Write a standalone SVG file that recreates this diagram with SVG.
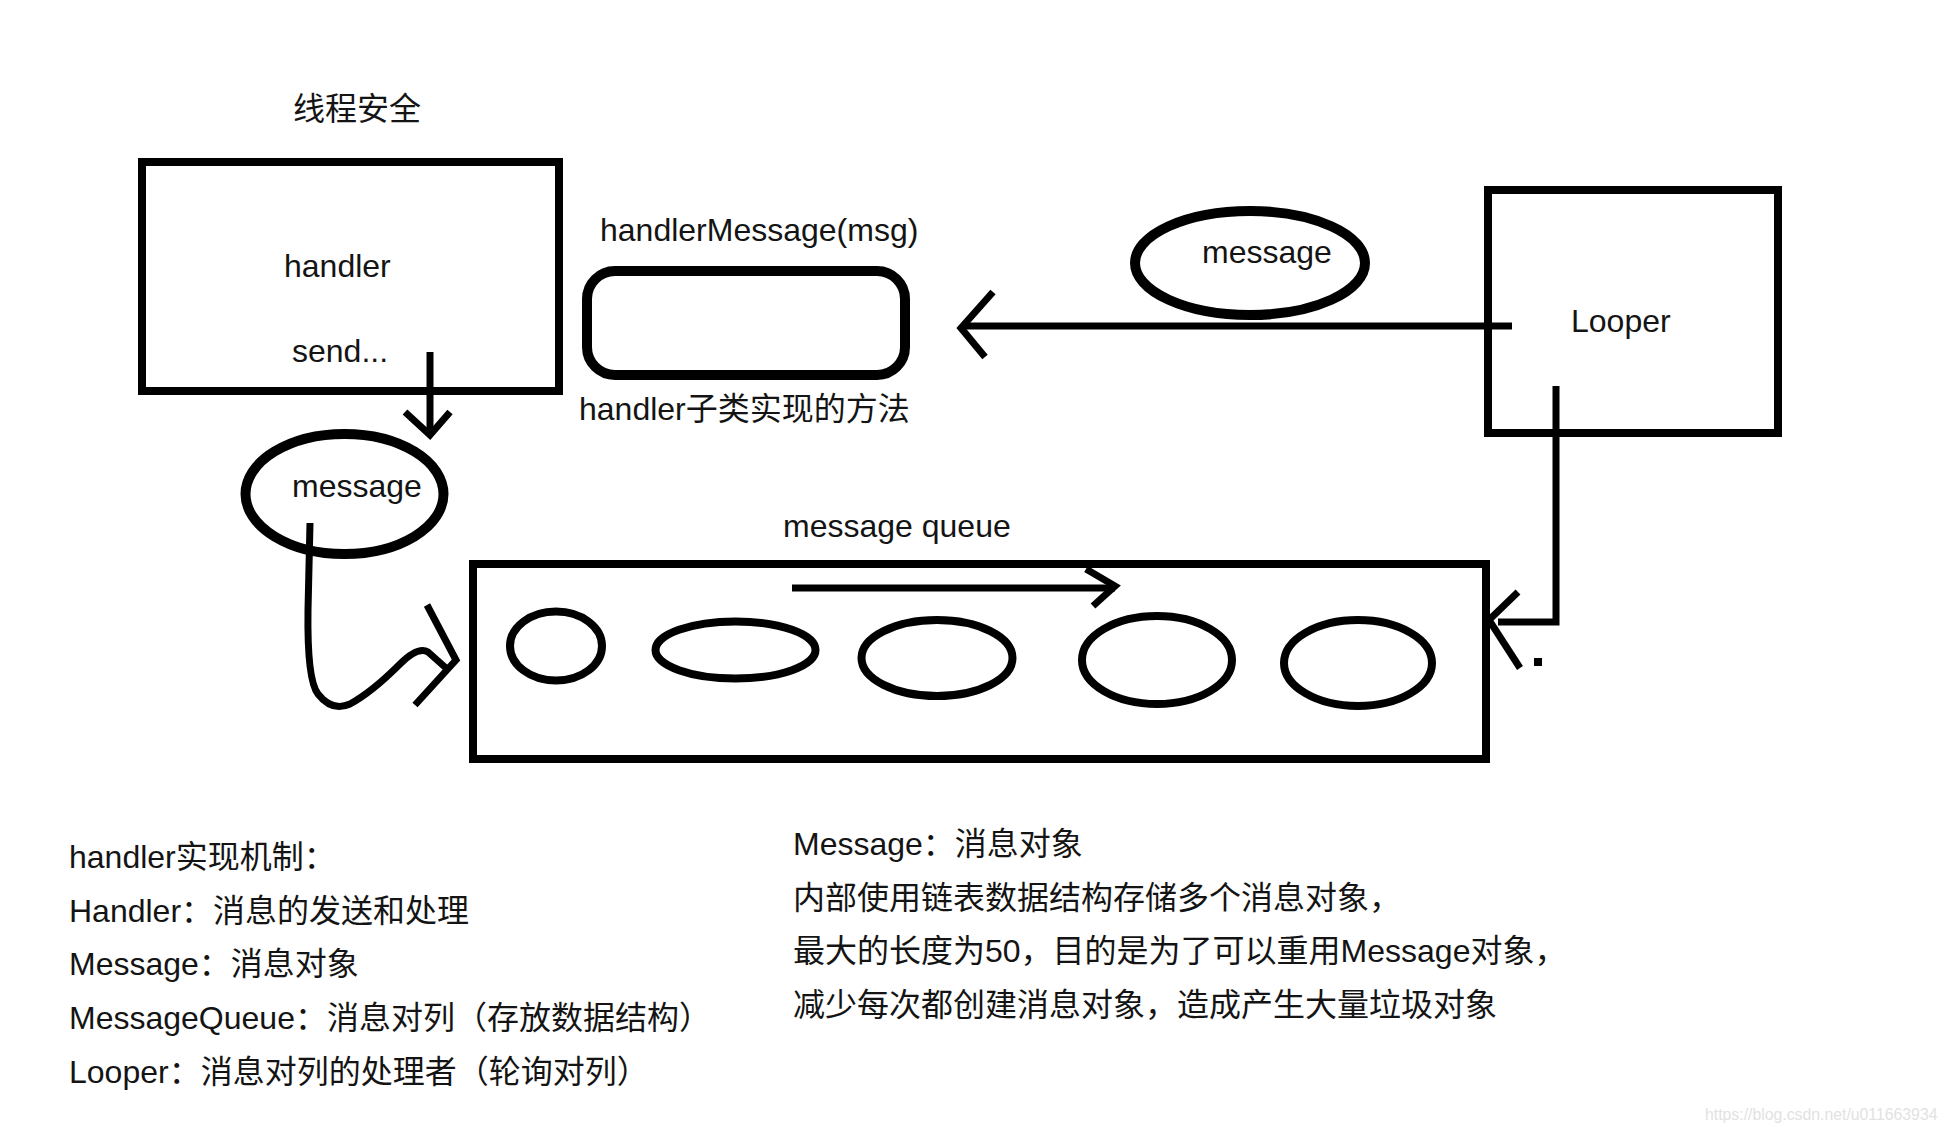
<svg xmlns="http://www.w3.org/2000/svg" width="1948" height="1134" viewBox="0 0 1948 1134">
<style>
  .t { font-family: "Liberation Sans", "Noto Sans CJK SC", sans-serif; font-size: 32px; fill: #141414; }
  .shape { fill: none; stroke: #000; stroke-width: 8; }
  .thick { fill: none; stroke: #000; stroke-width: 10; }
  .conn { fill: none; stroke: #000; stroke-width: 7; stroke-linejoin: miter; }
  .wm { font-family: "Liberation Sans", sans-serif; font-size: 15.8px; fill: #e2e2e2; }
</style>
<rect width="1948" height="1134" fill="#fff"/>

<text class="t" x="293" y="120">线程安全</text>

<g id="handler">
  <rect class="shape" x="142" y="162" width="417" height="229"/>
  <text class="t" x="284" y="277">handler</text>
  <text class="t" x="292" y="362">send...</text>
</g>

<g id="handlerMessage">
  <text class="t" x="600" y="241">handlerMessage(msg)</text>
  <rect class="thick" x="587" y="271" width="318" height="104" rx="28" ry="28"/>
  <text class="t" x="579" y="420">handler子类实现的方法</text>
</g>

<g id="message-top">
  <ellipse class="thick" cx="1250" cy="263" rx="115" ry="52"/>
  <text class="t" x="1202" y="263">message</text>
</g>

<g id="looper">
  <rect class="shape" x="1488" y="190" width="290" height="243"/>
  <text class="t" x="1571" y="332">Looper</text>
</g>

<g id="message-left">
  <ellipse class="thick" cx="344.5" cy="494" rx="99" ry="60"/>
  <text class="t" x="292" y="497">message</text>
</g>

<g id="message-queue">
  <text class="t" x="783" y="537">message queue</text>
  <rect class="shape" x="473" y="564" width="1013" height="195"/>
  <ellipse class="shape" cx="556" cy="646" rx="46" ry="34.5"/>
  <ellipse class="shape" cx="735.5" cy="650" rx="80" ry="28.5"/>
  <ellipse class="shape" cx="937" cy="658" rx="75.5" ry="38"/>
  <ellipse class="shape" cx="1157" cy="660" rx="75" ry="44"/>
  <ellipse class="shape" cx="1358" cy="663" rx="74" ry="43"/>
</g>

<g id="connectors">
  <!-- handler send -> message -->
  <line class="conn" x1="430" y1="352" x2="430" y2="433"/>
  <polyline class="conn" points="405,412 430,435 450,412"/>
  <!-- Looper -> handlerMessage -->
  <line class="conn" x1="1512" y1="326" x2="962" y2="326" stroke-width="8"/>
  <polyline class="conn" points="993,292 961,328 985,357"/>
  <!-- Looper -> queue -->
  <polyline class="conn" points="1556,386 1556,622 1498,622"/>
  <polyline class="conn" points="1518,592 1489,620 1520,668"/>
  <rect x="1534" y="658" width="8" height="8" fill="#000"/>
  <!-- message -> queue -->
  <path class="conn" d="M 310 523 L 308 610 Q 307 680 318 694 Q 332 712 350 704 Q 372 692 400 664 Q 418 646 428 652 L 446 668"/>
  <polyline class="conn" points="427,605 456,660 415,705"/>
  <!-- queue direction -->
  <line class="conn" x1="792" y1="588" x2="1115" y2="588"/>
  <polyline class="conn" points="1086,569 1115,586 1093,606"/>
</g>

<g id="notes-left">
  <text class="t" x="69" y="868">handler实现机制：</text>
  <text class="t" x="69" y="921.5">Handler：消息的发送和处理</text>
  <text class="t" x="69" y="975">Message：消息对象</text>
  <text class="t" x="69" y="1029">MessageQueue：消息对列（存放数据结构）</text>
  <text class="t" x="69" y="1083">Looper：消息对列的处理者（轮询对列）</text>
</g>

<g id="notes-right">
  <text class="t" x="793" y="855">Message：消息对象</text>
  <text class="t" x="793" y="909">内部使用链表数据结构存储多个消息对象，</text>
  <text class="t" x="793" y="962">最大的长度为50，目的是为了可以重用Message对象，</text>
  <text class="t" x="793" y="1015.5">减少每次都创建消息对象，造成产生大量垃圾对象</text>
</g>

<text class="wm" x="1705" y="1120">https://blog.csdn.net/u011663934</text>
</svg>
